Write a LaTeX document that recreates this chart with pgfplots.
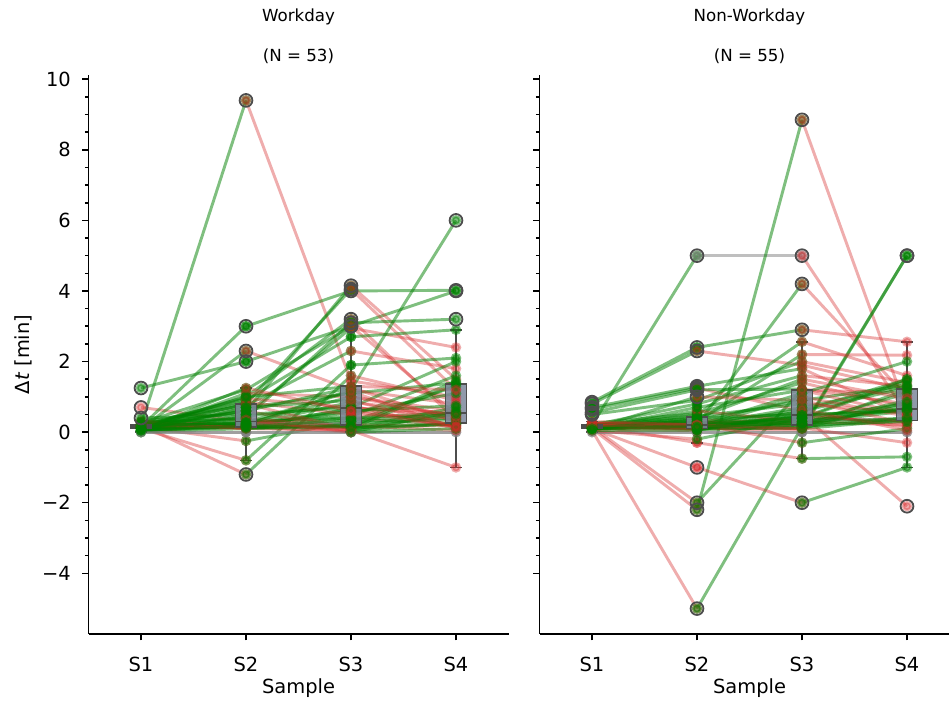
\documentclass[border=0pt]{standalone}
\usepackage{fontspec}
\setmainfont{DejaVu Sans}
\usepackage{pgfplots}
\usepackage{pgfplotstable}
\usepgfplotslibrary{statistics}
\pgfplotsset{compat=1.18}

\definecolor{segG}{RGB}{0,128,0}
\definecolor{segR}{RGB}{214,39,40}
\definecolor{segN}{RGB}{128,128,128}
\definecolor{boxedge}{RGB}{77,77,77}
\definecolor{boxfill}{RGB}{125,135,155}

% Workday: S1 S2 S3 S4 per subject
\pgfplotstableread{
a b c d
0.20 9.40 1.45 1.00
1.25 2.00 3.00 4.00
0.70 0.30 0.40 0.20
0.15 3.00 4.00 4.02
0.10 2.30 1.20 0.80
0.20 0.60 4.15 1.50
0.10 0.80 4.05 1.20
0.15 1.00 3.20 0.35
0.10 0.40 3.10 3.20
0.26 1.20 3.00 0.50
0.05 0.50 2.95 2.40
0.03 0.20 1.20 6.00
0.15 0.90 2.70 2.90
0.28 0.75 2.30 1.80
0.02 1.10 1.00 0.60
0.10 -0.80 1.90 2.10
0.20 -1.20 1.60 0.90
0.15 -0.25 0.30 0.40
0.00 0.70 1.10 1.40
0.10 0.25 0.45 1.60
0.25 0.15 0.40 0.55
0.15 0.20 0.85 0.50
0.00 0.10 0.30 1.30
0.04 0.45 0.75 0.10
0.20 0.95 0.70 0.45
0.15 0.12 0.68 0.55
0.30 0.20 0.65 0.20
0.10 0.18 0.60 0.75
0.05 0.22 0.55 1.10
0.20 0.85 0.50 0.40
0.03 0.15 0.00 0.60
0.30 0.10 0.05 0.25
0.15 0.60 0.10 1.36
0.10 0.80 0.08 0.50
0.20 0.25 0.25 0.35
0.00 0.00 0.00 0.00
0.00 0.00 0.00 0.00
0.15 0.12 0.20 0.18
0.10 0.15 0.18 0.05
0.27 0.10 0.15 0.25
0.25 0.40 0.12 0.22
0.05 0.20 0.10 0.70
0.15 0.30 0.05 -1.00
0.20 0.14 0.15 1.45
0.10 0.60 1.26 0.30
0.40 0.50 0.70 2.00
0.05 0.70 0.90 0.15
0.10 1.00 1.30 1.20
0.30 0.35 0.00 0.10
0.20 0.25 1.00 0.45
0.15 0.28 1.15 0.12
0.10 0.15 0.35 0.50
0.05 1.25 0.60 0.15
}\work

% Non-Workday
\pgfplotstableread{
a b c d
0.20 5.00 5.00 0.50
0.10 -2.20 8.85 0.60
0.15 -2.00 1.20 1.10
0.10 0.20 4.20 1.00
0.85 2.40 2.90 2.56
0.80 2.30 1.90 1.20
0.70 1.30 1.80 0.45
0.65 1.25 0.60 1.50
0.55 1.20 1.22 0.80
0.50 0.90 2.00 1.40
0.05 -5.00 0.15 1.20
0.10 -1.00 -2.00 -1.00
0.20 0.40 0.50 -2.10
0.15 0.10 0.05 5.00
0.10 0.15 0.10 5.00
0.20 -0.30 -0.75 -0.70
0.10 0.50 2.56 1.60
0.15 0.30 2.20 2.18
0.20 0.80 1.60 1.30
0.10 1.00 0.90 1.33
0.25 0.53 1.40 0.70
0.10 0.20 1.10 2.00
0.15 0.12 0.30 0.65
0.20 0.25 0.40 1.50
0.10 0.18 0.43 0.30
0.25 0.15 0.20 0.90
0.15 0.35 0.25 0.60
0.10 0.22 0.35 0.35
0.20 0.10 0.45 0.25
0.00 0.00 0.00 0.00
0.00 0.00 0.00 0.00
0.15 0.08 0.15 0.40
0.10 0.05 0.60 1.25
0.20 0.45 0.80 0.55
0.15 0.20 0.70 1.30
0.10 0.60 0.30 0.20
0.25 0.15 1.00 0.45
0.10 0.28 0.20 0.75
0.15 0.12 0.10 0.35
0.20 0.10 0.50 0.60
0.10 0.70 1.19 0.50
0.15 0.18 0.25 1.10
0.05 -0.20 0.40 0.80
0.20 0.30 0.55 0.15
0.10 0.25 0.30 0.68
0.15 0.14 0.38 1.45
0.20 0.08 0.12 -0.30
0.10 0.35 0.90 0.25
0.25 0.22 -0.30 0.10
0.15 0.16 0.65 0.05
0.10 0.40 1.50 0.95
0.20 0.12 0.20 0.30
0.05 0.06 0.48 0.62
0.30 0.20 0.10 0.85
0.10 0.15 0.25 0.40
}\nonwork

\pgfplotsset{
  segG/.style={color=segG, opacity=0.5, line width=2.1pt, mark=*, mark size=2.7pt, mark options={draw=none, fill=segG}},
  segR/.style={color=segR, opacity=0.38, line width=2.1pt, mark=*, mark size=2.7pt, mark options={draw=none, fill=segR}},
  segN/.style={color=segN, opacity=0.5, line width=2.1pt, mark=*, mark size=2.7pt, mark options={draw=none, fill=segN}},
  boxst/.style={solid, draw=boxedge, line width=1.2pt, fill=boxfill, fill opacity=0.85,
    mark=o, mark size=4.6pt, mark options={draw=boxedge, line width=1.3pt, fill opacity=0},
    boxplot/draw direction=y,
    boxplot/box extend=0.2, boxplot/whisker extend=0.11},
  myaxis/.style={
    scale only axis, width=302.4pt, height=402.48pt,
    xmin=-0.5, xmax=3.5, ymin=-5.72, ymax=10.12,
    axis x line*=bottom, axis y line*=left,
    axis line style={line width=1.1pt, -},
    tick align=outside, tick style={line width=1.1pt, black},
    major tick length=4.6pt, minor tick length=2.6pt,
    xtick={0,1,2,3}, xticklabels={S1,S2,S3,S4},
    ytick={-4,-2,0,2,4,6,8,10}, minor y tick num=3,
    xticklabel style={font=\fontsize{14}{16}\selectfont, anchor=center, yshift=-17.3pt},
    yticklabel style={font=\fontsize{14}{16}\selectfont, anchor=east, xshift=-4.6pt},
    xlabel={Sample},
    xlabel style={font=\fontsize{14}{16}\selectfont, at={(axis description cs:0.5,0)}, anchor=center, yshift=-38.9pt},
    clip=false,
  }
}

\newcommand\seg[4]{%
  \pgfmathtruncatemacro\dir{(#4>#2) ? 1 : ((#4<#2) ? -1 : 0)}%
  \ifnum\dir>0 \def\st{segG}\else\ifnum\dir<0 \def\st{segR}\else\def\st{segN}\fi\fi
  \edef\tmp{\noexpand\addplot[\st] coordinates {(#1,#2) (#3,#4)};}\tmp}

\newcommand\subjects[2]{%
  \pgfplotsforeachungrouped \r in {0,...,#2}{%
    \pgfplotstablegetelem{\r}{a}\of#1\let\va\pgfplotsretval
    \pgfplotstablegetelem{\r}{b}\of#1\let\vb\pgfplotsretval
    \pgfplotstablegetelem{\r}{c}\of#1\let\vc\pgfplotsretval
    \pgfplotstablegetelem{\r}{d}\of#1\let\vd\pgfplotsretval
    \seg{0}{\va}{1}{\vb}\seg{1}{\vb}{2}{\vc}\seg{2}{\vc}{3}{\vd}}}

\begin{document}
\begin{tikzpicture}
\path[use as bounding box] (0,0) rectangle (683.28pt,505.44pt);

\begin{axis}[myaxis, at={(63.72pt,48.96pt)}, anchor=south west,
  yticklabels={−4,−2,0,2,4,6,8,10}]
  \subjects{\work}{52}
  \addplot[boxst, boxplot={draw position=0}] table[y=a]{\work};
  \addplot[boxst, boxplot={draw position=1}] table[y=b]{\work};
  \addplot[boxst, boxplot={draw position=2}] table[y=c]{\work};
  \addplot[boxst, boxplot={draw position=3}] table[y=d]{\work};
\end{axis}

\begin{axis}[myaxis, at={(388.44pt,48.96pt)}, anchor=south west,
  yticklabels={}]
  \subjects{\nonwork}{54}
  \addplot[boxst, boxplot={draw position=0}] table[y=a]{\nonwork};
  \addplot[boxst, boxplot={draw position=1}] table[y=b]{\nonwork};
  \addplot[boxst, boxplot={draw position=2}] table[y=c]{\nonwork};
  \addplot[boxst, boxplot={draw position=3}] table[y=d]{\nonwork};
\end{axis}

\node[rotate=90, font=\fontsize{14}{16}\selectfont] at (16.6pt,250.2pt) {Δ\textit{t} [min]};

\node[font=\fontsize{12}{14}\selectfont] at (214.9pt,493.2pt) {Workday};
\node[font=\fontsize{12}{14}\selectfont] at (214.9pt,465.1pt) {(N = 53)};
\node[font=\fontsize{12}{14}\selectfont] at (539.6pt,493.2pt) {Non-Workday};
\node[font=\fontsize{12}{14}\selectfont] at (539.6pt,465.1pt) {(N = 55)};
\end{tikzpicture}
\end{document}
